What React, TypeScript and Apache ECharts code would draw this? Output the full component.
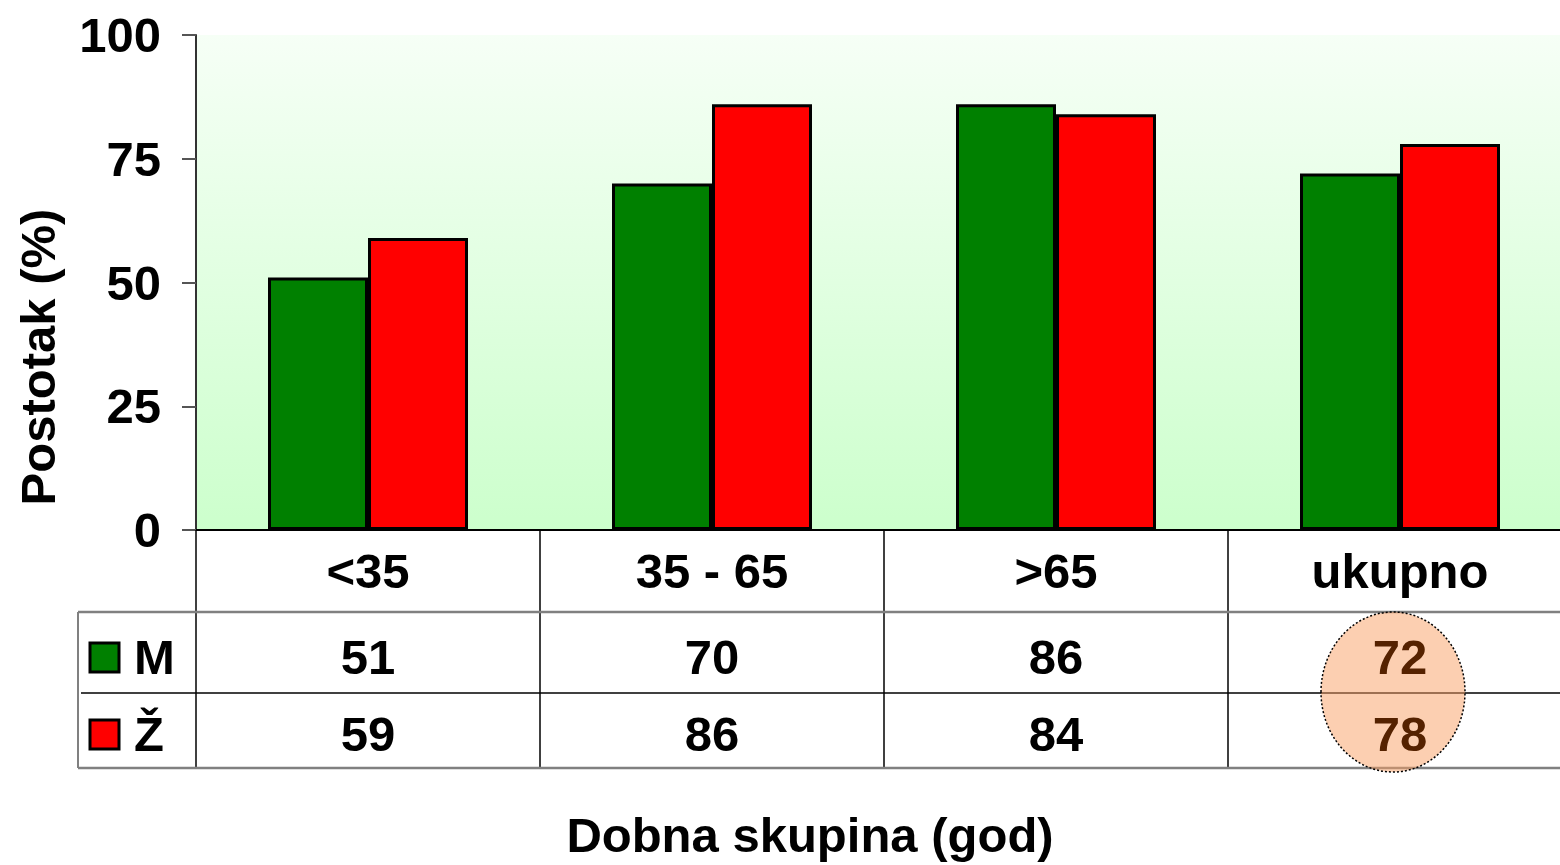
import React, { useEffect, useRef } from "react";
import * as echarts from "echarts";

const categories = ["<35", "35 - 65", ">65", "ukupno"];
const maleValues = [51, 70, 86, 72];
const femaleValues = [59, 86, 84, 78];
const seriesNames = ["M", "Ž"];
const yAxisTitle = "Postotak (%)";
const xAxisTitle = "Dobna skupina (god)";
const highlightIndex = 3;

const FONT = "'Liberation Sans', Arial, sans-serif";
const GREEN = "#008000";
const RED = "#ff0000";
const FS = 49;

export default function App() {
  const ref = useRef<HTMLDivElement>(null);
  useEffect(() => {
    document.body.style.margin = "0";
    document.body.style.overflow = "hidden";
    document.documentElement.style.overflow = "hidden";
    const chart = echarts.init(ref.current!, null, { renderer: "svg" });
    const GRID_LEFT = 196;
    const GRID_TOP = 35;
    const GRID_BOTTOM_Y = 530;
    chart.setOption({
      animation: false,
      textStyle: { fontFamily: FONT },
      grid: {
        left: GRID_LEFT,
        top: GRID_TOP,
        right: 0,
        bottom: 865 - GRID_BOTTOM_Y,
        show: true,
        borderWidth: 0,
        backgroundColor: new echarts.graphic.LinearGradient(0, 0, 0, 1, [
          { offset: 0, color: "#f6fff6" },
          { offset: 1, color: "#ccffcc" },
        ]),
      },
      xAxis: {
        type: "category",
        data: categories,
        axisLine: { show: true, lineStyle: { color: "#000", width: 2 } },
        axisTick: { show: true, length: 238, lineStyle: { color: "#000", width: 1.5 } },
        axisLabel: {
          fontSize: FS,
          fontWeight: "bold",
          color: "#000",
          fontFamily: FONT,
          margin: 16,
          interval: 0,
        },
        splitLine: { show: false },
      },
      yAxis: {
        type: "value",
        min: 0,
        max: 100,
        interval: 25,
        axisLine: { show: true, lineStyle: { color: "#333", width: 2 } },
        axisTick: { show: true, length: 14, lineStyle: { color: "#555", width: 2 } },
        axisLabel: {
          fontSize: FS,
          fontWeight: "bold",
          color: "#000",
          fontFamily: FONT,
          margin: 35,
        },
        splitLine: { show: false },
      },
      series: [
        {
          name: seriesNames[0],
          type: "bar",
          data: maleValues,
          barWidth: 100,
          barGap: "0%",
          itemStyle: { color: GREEN, borderColor: "#000", borderWidth: 3 },
        },
        {
          name: seriesNames[1],
          type: "bar",
          data: femaleValues,
          barWidth: 100,
          barGap: "0%",
          itemStyle: { color: RED, borderColor: "#000", borderWidth: 3 },
        },
      ],
    });

    const xs = categories.map((_, i) => chart.convertToPixel({ xAxisIndex: 0 }, i) as number);
    const rowM = 657;
    const rowZ = 734;
    const R = 1572;
    const graphics: any[] = [];
    graphics.push({ type: "line", z: 10, shape: { x1: 78, y1: 612, x2: R, y2: 612 }, style: { stroke: "#808080", lineWidth: 2.5 } });
    graphics.push({ type: "line", z: 10, shape: { x1: 81, y1: 693, x2: R, y2: 693 }, style: { stroke: "#000", lineWidth: 1.5 } });
    graphics.push({ type: "line", z: 10, shape: { x1: 78, y1: 768, x2: R, y2: 768 }, style: { stroke: "#808080", lineWidth: 2.5 } });
    graphics.push({ type: "line", z: 10, shape: { x1: 78, y1: 612, x2: 78, y2: 768 }, style: { stroke: "#808080", lineWidth: 2 } });
    graphics.push({
      type: "ellipse",
      z: 20,
      shape: { cx: xs[highlightIndex] - 7, cy: 692, rx: 72, ry: 80 },
      style: { fill: "rgba(250,160,100,0.5)", stroke: "#000", lineWidth: 1.5, lineDash: [2, 2] },
    });
    [GREEN, RED].forEach((c, r) => {
      const y = r === 0 ? rowM : rowZ;
      graphics.push({ type: "rect", z: 30, shape: { x: 90, y: y - 14, width: 29, height: 29 }, style: { fill: c, stroke: "#000", lineWidth: 3 } });
      graphics.push({
        type: "text", z: 30, x: 134, y,
        style: { text: seriesNames[r], font: `bold ${FS}px ${FONT}`, fill: "#000", align: "left", verticalAlign: "middle" },
      });
    });
    [maleValues, femaleValues].forEach((vals, r) => {
      const y = r === 0 ? rowM : rowZ;
      vals.forEach((v, i) => {
        graphics.push({
          type: "text", z: 30, x: xs[i], y,
          style: {
            text: String(v), font: `bold ${FS}px ${FONT}`,
            fill: i === highlightIndex ? "#552200" : "#000",
            align: "center", verticalAlign: "middle",
          },
        });
      });
    });
    graphics.push({
      type: "text", z: 30, x: 38, y: 357, rotation: Math.PI / 2,
      style: { text: yAxisTitle, font: `bold ${FS}px ${FONT}`, fill: "#000", align: "center", verticalAlign: "middle" },
    });
    graphics.push({
      type: "text", z: 30, x: 810, y: 835,
      style: { text: xAxisTitle, font: `bold ${FS}px ${FONT}`, fill: "#000", align: "center", verticalAlign: "middle" },
    });
    chart.setOption({ graphic: graphics });
    return () => chart.dispose();
  }, []);
  return <div ref={ref} style={{ width: 1572, height: 865 }} />;
}
